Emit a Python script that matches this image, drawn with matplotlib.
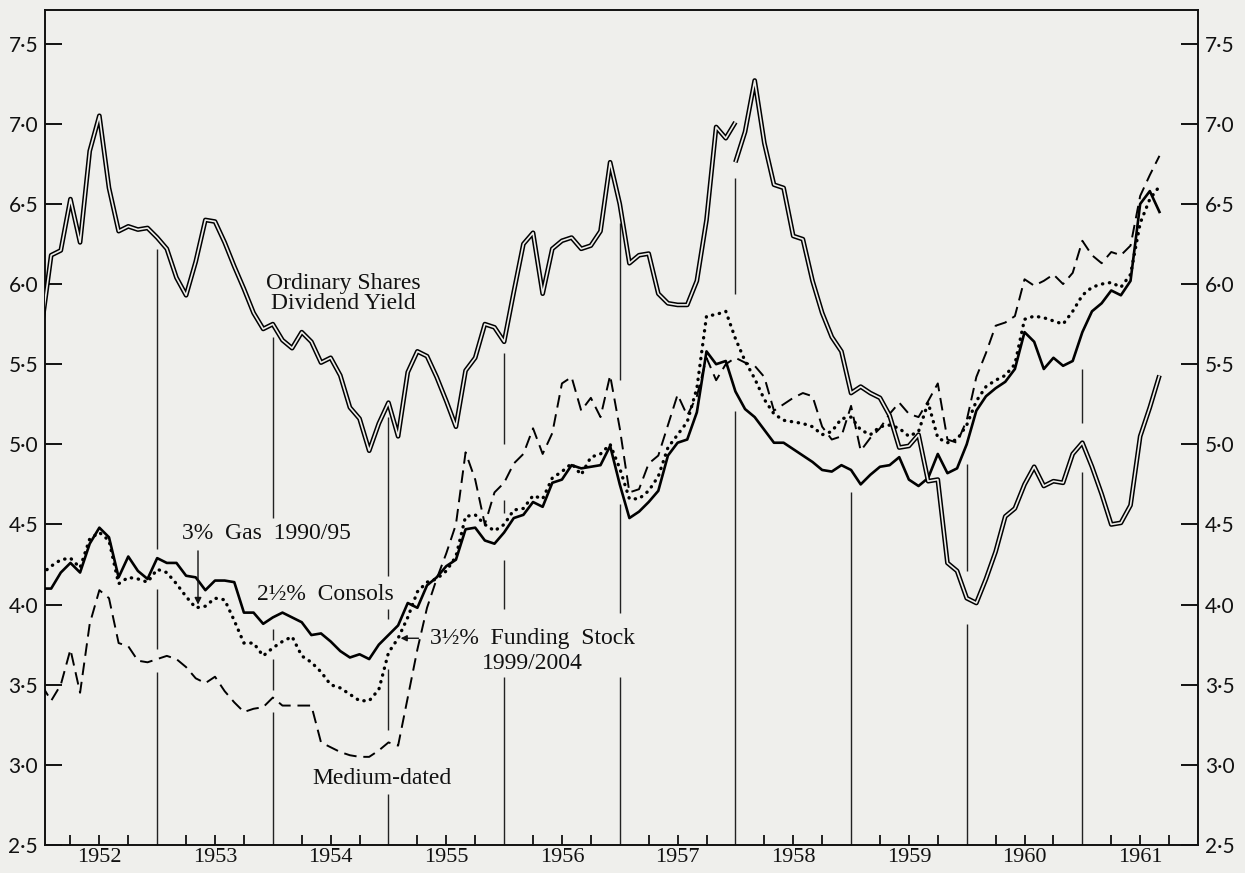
import matplotlib
matplotlib.use("Agg")
import matplotlib.pyplot as plt
import numpy as np
from matplotlib.ticker import FixedLocator, FuncFormatter

# ---------------- data (monthly, starting January 1952) ----------------
START_YEAR = 1952

consols = [
    4.10, 4.10, 4.20, 4.26, 4.20, 4.38, 4.48, 4.42, 4.17, 4.30,
    4.21, 4.16, 4.29, 4.26, 4.26, 4.18, 4.17, 4.09, 4.15, 4.15,
    4.14, 3.95, 3.95, 3.88, 3.92, 3.95, 3.92, 3.89, 3.81, 3.82,
    3.77, 3.71, 3.67, 3.69, 3.66, 3.75, 3.81, 3.87, 4.01, 3.98,
    4.12, 4.17, 4.24, 4.28, 4.47, 4.48, 4.40, 4.38, 4.45, 4.54,
    4.56, 4.64, 4.61, 4.76, 4.78, 4.87, 4.85, 4.86, 4.87, 4.99,
    4.75, 4.54, 4.58, 4.64, 4.71, 4.93, 5.01, 5.03, 5.20, 5.58,
    5.50, 5.52,
    5.33, 5.22, 5.17, 5.09, 5.01, 5.01, 4.97, 4.93, 4.89, 4.84,
    4.83, 4.87, 4.84, 4.75, 4.81, 4.86, 4.87, 4.92, 4.78, 4.74,
    4.79, 4.94, 4.82, 4.85, 5.00, 5.21, 5.30, 5.35, 5.39, 5.47,
    5.70, 5.64, 5.47, 5.54, 5.49, 5.52, 5.70, 5.83, 5.88, 5.96,
    5.93, 6.02, 6.50, 6.58, 6.45,
]

gas_funding = [
    4.19, 4.24, 4.28, 4.29, 4.23, 4.41, 4.45, 4.40, 4.13, 4.17,
    4.16, 4.14, 4.22, 4.20, 4.13, 4.05, 3.98, 3.99, 4.04, 4.03,
    3.90, 3.76, 3.76, 3.68, 3.73, 3.77, 3.80, 3.68, 3.64, 3.58,
    3.50, 3.48, 3.44, 3.40, 3.40, 3.47, 3.70, 3.79, 3.92, 4.08,
    4.14, 4.16, 4.21, 4.30, 4.55, 4.56, 4.50, 4.46, 4.50, 4.59,
    4.60, 4.68, 4.66, 4.79, 4.83, 4.88, 4.81, 4.92, 4.94, 5.00,
    4.85, 4.66, 4.66, 4.71, 4.80, 4.98, 5.06, 5.14, 5.35, 5.80,
    5.81, 5.83,
    5.66, 5.52, 5.41, 5.28, 5.19, 5.15, 5.14, 5.13, 5.11, 5.06,
    5.08, 5.16, 5.17, 5.09, 5.06, 5.11, 5.12, 5.10, 5.05, 5.08,
    5.26, 5.04, 5.01, 5.03, 5.12, 5.27, 5.36, 5.40, 5.43, 5.50,
    5.78, 5.80, 5.79, 5.77, 5.75, 5.83, 5.93, 5.98, 6.00, 6.01,
    5.98, 6.06, 6.38, 6.53, 6.61,
]

medium_dated = [
    3.50, 3.40, 3.50, 3.72, 3.45, 3.88, 4.09, 4.04, 3.76, 3.74,
    3.65, 3.64, 3.66, 3.68, 3.66, 3.61, 3.54, 3.51, 3.55, 3.46,
    3.39, 3.33, 3.35, 3.36, 3.42, 3.37, 3.37, 3.37, 3.37, 3.14,
    3.11, 3.08, 3.06, 3.05, 3.05, 3.09, 3.14, 3.12, 3.42, 3.72,
    3.98, 4.16, 4.32, 4.50, 4.95, 4.78, 4.50, 4.70, 4.76, 4.88,
    4.94, 5.10, 4.94, 5.07, 5.38, 5.42, 5.21, 5.29, 5.17, 5.43,
    5.10, 4.70, 4.72, 4.88, 4.93, 5.12, 5.31, 5.18, 5.30, 5.54,
    5.40, 5.50,
    5.54, 5.51, 5.49, 5.42, 5.21, 5.25, 5.29, 5.32, 5.30, 5.11,
    5.03, 5.05, 5.24, 4.96, 5.04, 5.10, 5.19, 5.26, 5.19, 5.17,
    5.27, 5.38, 5.03, 5.01, 5.15, 5.42, 5.57, 5.74, 5.76, 5.80,
    6.03, 5.99, 6.02, 6.06, 6.00, 6.07, 6.27, 6.18, 6.13, 6.20,
    6.18, 6.24, 6.55, 6.68, 6.80,
]

# Ordinary shares dividend yield: old basis to Jan 1958, new basis after
ordinary_old = [
    5.73, 6.18, 6.21, 6.53, 6.26, 6.83, 7.05, 6.60, 6.33, 6.36,
    6.34, 6.35, 6.29, 6.22, 6.04, 5.93, 6.14, 6.40, 6.39, 6.26,
    6.11, 5.97, 5.82, 5.72, 5.75, 5.65, 5.60, 5.70, 5.64, 5.51,
    5.54, 5.43, 5.23, 5.16, 4.96, 5.13, 5.26, 5.05, 5.45, 5.58,
    5.55, 5.42, 5.27, 5.11, 5.46, 5.54, 5.75, 5.73, 5.64, 5.95,
    6.25, 6.32, 5.94, 6.22, 6.27, 6.29, 6.22, 6.24, 6.33, 6.76,
    6.50, 6.13, 6.18, 6.19, 5.94, 5.88, 5.87, 5.87, 6.02, 6.40,
    6.98, 6.91, 7.01,
]
ordinary_new_start = 72   # months after January 1952
ordinary_new = [
    6.76, 6.95, 7.27, 6.88, 6.62, 6.60, 6.30, 6.28, 6.02, 5.82,
    5.67, 5.58, 5.32, 5.36, 5.32, 5.29, 5.18, 4.98, 4.99, 5.06,
    4.77, 4.78, 4.26, 4.21, 4.04, 4.01, 4.16, 4.33, 4.55, 4.60,
    4.75, 4.86, 4.74, 4.77, 4.76, 4.94, 5.01, 4.86, 4.69, 4.50,
    4.51, 4.62, 5.05, 5.23, 5.43,
]

year_labels = list(range(1952, 1962))
y_ticks = [2.5, 3.0, 3.5, 4.0, 4.5, 5.0, 5.5, 6.0, 6.5, 7.0, 7.5]

# year-boundary rules (drawn with gaps where curves / labels cross)
rule_segments = {
    1953: [(2.5, 3.58), (3.72, 4.10), (4.35, 6.22)],
    1954: [(2.5, 3.33), (3.47, 3.66), (3.78, 3.85), (4.54, 5.67)],
    1955: [(2.5, 2.82), (3.22, 3.60), (3.91, 3.97), (4.18, 5.17)],
    1956: [(2.5, 3.55), (3.97, 4.28), (4.57, 4.65), (5.00, 5.57)],
    1957: [(2.5, 3.55), (3.95, 4.63), (5.40, 6.38)],
    1958: [(2.5, 5.21), (5.94, 6.66)],
    1959: [(2.5, 4.70)],
    1960: [(2.5, 3.88), (4.21, 4.88)],
    1961: [(2.5, 4.83), (5.13, 5.47)],
}

# ---------------- figure ----------------
BG = "#efefec"
SERIF = ["Liberation Serif", "DejaVu Serif"]
SANS = ["Lato", "DejaVu Sans"]

W, H = 1245, 873
fig = plt.figure(figsize=(W / 100, H / 100), dpi=100, facecolor=BG)
ax = fig.add_axes([45 / W, 1 - 845 / H, (1198 - 45) / W, (845 - 10) / H])
ax.set_facecolor(BG)


def month_x(n, offset=0):
    return START_YEAR + (np.arange(n) + offset) / 12.0


# year rules
for yr, segs in rule_segments.items():
    for lo, hi in segs:
        ax.vlines(yr, lo, hi, color="#222222", lw=1.0, zorder=1)

# medium-dated (dashed)
ax.plot(month_x(len(medium_dated)), medium_dated, color="black", lw=1.4,
        dashes=(6.5, 3.5), zorder=3)
# 3% Gas / 3 1/2% Funding (dotted)
ax.plot(month_x(len(gas_funding)), gas_funding, color="black", lw=2.4,
        linestyle=(0, (0.1, 2.0)), dash_capstyle="round", zorder=4)
# 2 1/2% Consols (solid)
ax.plot(month_x(len(consols)), consols, color="black", lw=1.9, zorder=5)
# ordinary shares (double line)
for vals, off in ((ordinary_old, 0), (ordinary_new, ordinary_new_start)):
    xs = month_x(len(vals), off)
    ax.plot(xs, vals, color="black", lw=3.4, solid_capstyle="butt", zorder=6)
    ax.plot(xs, vals, color=BG, lw=1.2, solid_capstyle="butt", zorder=7)

ax.set_xlim(1952.03, 1962.0)
ax.set_ylim(2.5, 7.71)

# axes styling
for sp in ax.spines.values():
    sp.set_linewidth(1.4)
    sp.set_color("#111111")

ax.yaxis.set_major_locator(FixedLocator(y_ticks))
ax.yaxis.set_major_formatter(FuncFormatter(lambda v, p: f"{v:.1f}".replace(".", "\u00b7")))
ax.tick_params(axis="y", which="major", direction="in", left=True, right=True,
               labelleft=True, labelright=True, length=12, width=1.4,
               labelsize=15, pad=5, colors="#111111")
for lab in ax.get_yticklabels():
    lab.set_family(SANS)

ax.xaxis.set_major_locator(FixedLocator([y + 0.5 for y in year_labels]))
ax.xaxis.set_major_formatter(FuncFormatter(lambda v, p: str(int(np.floor(v)))))
ax.xaxis.set_minor_locator(FixedLocator([y + q for y in year_labels for q in (0.25, 0.75)]))
ax.tick_params(axis="x", which="both", direction="in", bottom=True, top=False,
               length=7, width=1.3, labelsize=16, pad=2, colors="#111111")
for lab in ax.get_xticklabels():
    lab.set_family(SERIF)

# ---------------- labels ----------------
txt = dict(family=SERIF, fontsize=17, color="#111111")
ax.text(1954.61, 5.94, "Ordinary Shares\nDividend Yield", ha="center", va="center",
        linespacing=0.92, zorder=8, **txt)
ax.text(1953.215, 4.445, "3%  Gas  1990/95", ha="left", va="center", zorder=8, **txt)
ax.text(1953.864, 4.06, "2½%  Consols", ha="left", va="center", zorder=8, **txt)
ax.text(1955.36, 3.79, "3½%  Funding  Stock", ha="left", va="center", zorder=8, **txt)
ax.text(1955.81, 3.635, "1999/2004", ha="left", va="center", zorder=8, **txt)
ax.text(1954.34, 2.918, "Medium-dated", ha="left", va="center", zorder=8, **txt)

ax.annotate("", xy=(1953.353, 4.0), xytext=(1953.353, 4.335),
            arrowprops=dict(arrowstyle="-|>", color="#111111", lw=1.0,
                            mutation_scale=10, shrinkA=0, shrinkB=0), zorder=8)
ax.annotate("", xy=(1955.105, 3.79), xytext=(1955.26, 3.79),
            arrowprops=dict(arrowstyle="-|>", color="#111111", lw=1.0,
                            mutation_scale=9, shrinkA=0, shrinkB=0), zorder=8)

fig.savefig("out.png", dpi=100, facecolor=BG)
